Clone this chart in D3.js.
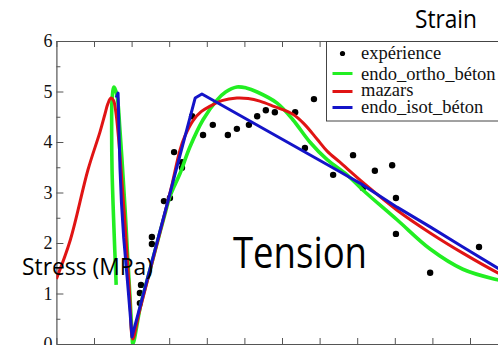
<!DOCTYPE html>
<html>
<head>
<meta charset="utf-8">
<script src="https://cdn.jsdelivr.net/npm/d3@7"></script>
<style>
  html, body { margin: 0; padding: 0; background: #fff; overflow: hidden; }
  svg { display: block; }
</style>
</head>
<body>
<svg id="chart" width="498" height="345"></svg>
<script>
// Stress axis ticks (MPa) and strain axis ticks
const stressTicks = [0, 1, 2, 3, 4, 5, 6];
const stressMinorTicks = [0.5, 1.5, 2.5, 3.5, 4.5, 5.5];
const strainTicks = [0, 10, 20, 30, 40, 50, 60, 70, 80, 90, 100, 110, 120];

// Measured points
const expStrain = [22.2, 22.2, 22.5, 25.4, 25.4, 28.6, 30.2, 31.3, 33.4, 33.4, 36.1, 39.0, 41.6, 45.6, 48.0, 51.2,
                   53.4, 55.7, 58.1, 63.5, 66.1, 68.5, 73.6, 78.9, 81.5, 84.7, 89.3, 90.3, 90.3, 99.4, 112.4];
const expStress = [0.81, 1.01, 1.17, 2.12, 1.98, 2.83, 2.89, 3.80, 3.60, 3.49, 4.51, 4.14, 4.34, 4.14, 4.26, 4.34,
                   4.51, 4.63, 4.59, 4.59, 3.88, 4.85, 3.35, 3.74, 3.09, 3.43, 3.54, 2.89, 2.18, 1.41, 1.92];

// Model responses: [strain, stress]
const orthoCurve = [
  [15.9, 1.17], [15.3, 2.3], [14.8, 3.45], [14.7, 4.3], [14.8, 4.83], [15.3, 5.09], [16.1, 4.93],
  [16.9, 4.24], [17.7, 3.35], [18.4, 2.5], [19.0, 1.66], [19.6, 0.9], [20.1, 0.22], [20.35, 0.0],
  [22.5, 0.8], [25, 1.5], [27, 2.06], [29, 2.61], [30, 2.88], [31.5, 3.15], [32.9, 3.38], [35.5, 3.9],
  [39, 4.44], [42.7, 4.83], [45, 4.99], [48, 5.09], [50.5, 5.07], [53.4, 4.99], [58.7, 4.77], [62.9, 4.44],
  [67.4, 4.0], [72, 3.65], [77.3, 3.35], [81.5, 3.05], [90.6, 2.46], [99.4, 1.88], [108.1, 1.48],
  [117.4, 1.27], [120, 1.23]
];
const mazarsCurve = [
  [0, 1.29], [3.7, 2.06], [8.4, 3.45], [11.6, 4.2], [12.9, 4.55], [13.7, 4.76], [14.5, 4.87], [15.2, 4.82],
  [15.8, 4.6], [16.5, 4.1], [17.4, 3.25], [18.5, 2.1], [19.5, 0.95], [20.3, 0.1],
  [22, 0.62], [25, 1.48], [28, 2.34], [30.5, 3.08], [32.9, 3.85], [34.2, 4.12], [36.3, 4.42], [38.5, 4.6],
  [40.9, 4.71], [44, 4.82], [48, 4.87], [51, 4.86], [54.1, 4.81], [58, 4.7], [62.9, 4.55], [66, 4.35],
  [69.3, 4.06], [72, 3.82], [75.4, 3.6], [81.5, 3.2], [90.6, 2.65], [99.4, 2.2], [108.1, 1.8],
  [117.4, 1.41], [120, 1.32]
];
const isotCurve = [
  [15.9, 4.88], [16.4, 4.97], [16.6, 4.35], [16.9, 3.5], [17.3, 2.8], [17.9, 2.1], [18.8, 1.33],
  [19.5, 0.7], [20.1, 0.14], [36.9, 4.87], [38.7, 4.95], [75.4, 3.41], [81.5, 3.15], [90.6, 2.71],
  [99.4, 2.32], [108.1, 1.92], [117.4, 1.5], [120, 1.39]
];

const seriesNames = ["expérience", "endo_ortho_béton", "mazars", "endo_isot_béton"];
const seriesColors = ["#000000", "#22ee22", "#e01414", "#1414c8"];

const serifFont = "'Liberation Serif', 'Times New Roman', Times, Tinos, 'Noto Serif', 'DejaVu Serif', FreeSerif, serif";
const sansFont = "'Open Sans', 'Noto Sans', sans-serif";

const svg = d3.select("#chart");

const x = d3.scaleLinear().domain([0, 120]).range([56.4, 507.6]);
const y = d3.scaleLinear().domain([0, 6]).range([344, 41]);

svg.append("defs").append("clipPath").attr("id", "plotClip")
  .append("rect")
  .attr("x", x(0)).attr("y", y(6))
  .attr("width", x(120) - x(0)).attr("height", y(0) - y(6));

function styleAxis(g) {
  g.attr("font-family", serifFont).attr("font-size", 18);
  g.selectAll("path.domain").attr("stroke", "#555").attr("stroke-width", 1.2);
  g.selectAll(".tick line").attr("stroke", "#555").attr("stroke-width", 1);
  g.selectAll(".tick text").attr("fill", "#111");
}

// Frame axes, ticks pointing inward
svg.append("g").attr("transform", `translate(0,${y(6)})`)
  .call(d3.axisTop(x).tickValues(strainTicks).tickSizeInner(-6).tickSizeOuter(0).tickFormat(""))
  .call(styleAxis);
svg.append("g").attr("transform", `translate(0,${y(0)})`)
  .call(d3.axisBottom(x).tickValues(strainTicks).tickSizeInner(-6).tickSizeOuter(0).tickFormat(""))
  .call(styleAxis);
svg.append("g").attr("transform", `translate(${x(0)},0)`)
  .call(d3.axisLeft(y).tickValues(stressMinorTicks).tickSizeInner(-4).tickSizeOuter(0).tickFormat(""))
  .call(g => g.select("path.domain").remove())
  .call(styleAxis);
svg.append("g").attr("transform", `translate(${x(0)},0)`)
  .call(d3.axisLeft(y).tickValues(stressTicks).tickSizeInner(-7).tickSizeOuter(0).tickPadding(4)
    .tickFormat(d3.format("d")))
  .call(styleAxis);

const plot = svg.append("g").attr("clip-path", "url(#plotClip)");

// Measured points
plot.append("g").selectAll("circle")
  .data(d3.range(expStrain.length))
  .join("circle")
  .attr("cx", i => x(expStrain[i]))
  .attr("cy", i => y(expStress[i]))
  .attr("r", 3.2)
  .attr("fill", seriesColors[0]);

const smooth = d3.line().x(d => x(d[0])).y(d => y(d[1])).curve(d3.curveCatmullRom.alpha(0.5));
const straight = d3.line().x(d => x(d[0])).y(d => y(d[1]));

plot.append("path").datum(orthoCurve).attr("d", smooth)
  .attr("fill", "none").attr("stroke", seriesColors[1]).attr("stroke-width", 3.6)
  .attr("stroke-linejoin", "round");
plot.append("path").datum(mazarsCurve).attr("d", smooth)
  .attr("fill", "none").attr("stroke", seriesColors[2]).attr("stroke-width", 3)
  .attr("stroke-linejoin", "round");
plot.append("path").datum(isotCurve).attr("d", straight)
  .attr("fill", "none").attr("stroke", seriesColors[3]).attr("stroke-width", 3)
  .attr("stroke-linejoin", "round");

// Legend
const legend = svg.append("g").attr("transform", "translate(326.5,41.5)")
  .attr("font-family", serifFont).attr("font-size", 18.5);
legend.append("rect").attr("width", 200).attr("height", 79.5)
  .attr("fill", "#fff").attr("stroke", "#444").attr("stroke-width", 1);
const rowY = [12, 32, 50, 66];
const baseY = [17, 38, 54, 71];
legend.append("circle").attr("cx", 16).attr("cy", rowY[0]).attr("r", 2.6).attr("fill", seriesColors[0]);
[1, 2, 3].forEach(i => {
  legend.append("line").attr("x1", 6).attr("x2", 26).attr("y1", rowY[i]).attr("y2", rowY[i])
    .attr("stroke", seriesColors[i]).attr("stroke-width", 3);
});
seriesNames.forEach((name, i) => {
  legend.append("text").attr("x", 34.5).attr("y", baseY[i]).text(name).attr("fill", "#111");
});

// Annotations
const notes = svg.append("g").attr("font-family", sansFont).attr("fill", "#000");
notes.append("text").attr("x", 415).attr("y", 28).text("Strain")
  .attr("textLength", 62).attr("lengthAdjust", "spacingAndGlyphs").attr("font-size", 26);
notes.append("text").attr("x", 233).attr("y", 268).text("Tension")
  .attr("textLength", 134).attr("lengthAdjust", "spacingAndGlyphs").attr("font-size", 43);
notes.append("text").attr("x", 22).attr("y", 275).text("Stress (MPa)")
  .attr("textLength", 131).attr("lengthAdjust", "spacingAndGlyphs").attr("font-size", 24);
</script>
</body>
</html>
